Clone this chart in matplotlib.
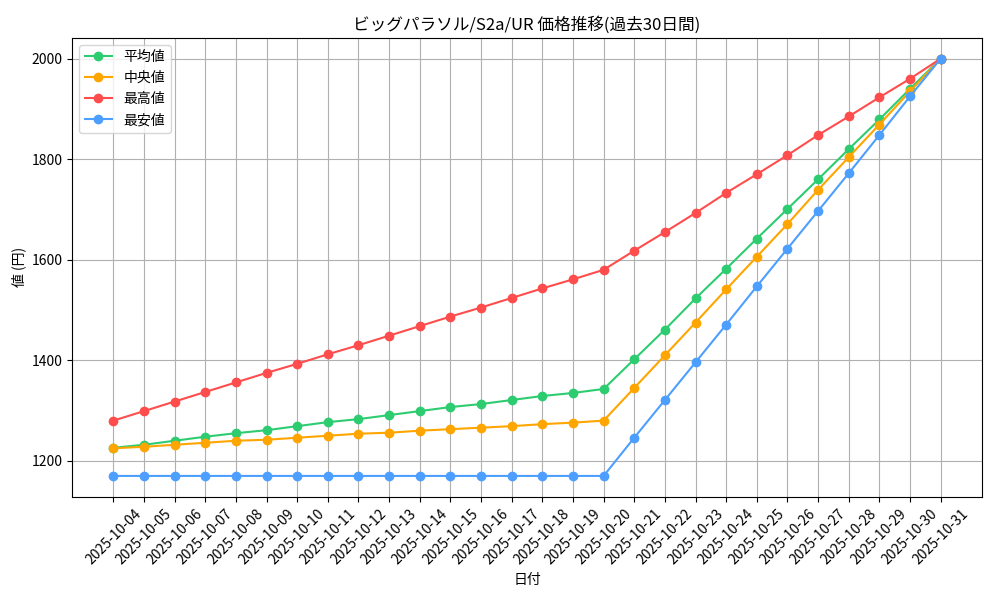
import matplotlib
matplotlib.use("Agg")
import matplotlib.pyplot as plt
import pandas as pd

plt.rcParams['font.family'] = ['Noto Sans CJK JP', 'DejaVu Sans']

####### Data #######
dates = pd.date_range("2025-10-04", "2025-10-31").strftime("%Y-%m-%d").tolist()

mean_vals = [1226, 1232, 1240, 1248, 1255, 1261, 1269, 1277, 1283, 1291, 1299, 1307,
             1313, 1321, 1329, 1335, 1343, 1402, 1461, 1523, 1582, 1642, 1701, 1760,
             1820, 1879, 1940, 2000]
median_vals = [1225, 1228, 1232, 1236, 1240, 1242, 1246, 1250, 1254, 1256, 1260, 1263,
               1266, 1269, 1273, 1276, 1280, 1345, 1410, 1475, 1541, 1606, 1671, 1739,
               1804, 1869, 1935, 2000]
max_vals = [1280, 1299, 1318, 1337, 1356, 1375, 1393, 1412, 1430, 1449, 1468, 1487,
            1505, 1524, 1543, 1561, 1580, 1618, 1655, 1693, 1733, 1770, 1808, 1848,
            1885, 1923, 1960, 2000]
min_vals = [1170, 1170, 1170, 1170, 1170, 1170, 1170, 1170, 1170, 1170, 1170, 1170,
            1170, 1170, 1170, 1170, 1170, 1246, 1321, 1396, 1471, 1547, 1622, 1697,
            1772, 1848, 1925, 2000]

plot_title = "ビッグパラソル/S2a/UR 価格推移(過去30日間)"
xaxis_label = "日付"
yaxis_label = "値 (円)"
####################

fig, ax = plt.subplots(figsize=(10, 6), dpi=100)

ax.plot(dates, mean_vals, marker='o', color='#2ecc71', label='平均値')
ax.plot(dates, median_vals, marker='o', color='#ffa500', label='中央値')
ax.plot(dates, max_vals, marker='o', color='#ff4d4d', label='最高値')
ax.plot(dates, min_vals, marker='o', color='#4d9fff', label='最安値')

ax.set_title(plot_title)
ax.set_xlabel(xaxis_label)
ax.set_ylabel(yaxis_label)
ax.legend(loc='upper left')
ax.grid(True)
plt.xticks(rotation=45)
plt.subplots_adjust(left=0.072, right=0.982, top=0.937, bottom=0.172)

plt.savefig("out.png")
